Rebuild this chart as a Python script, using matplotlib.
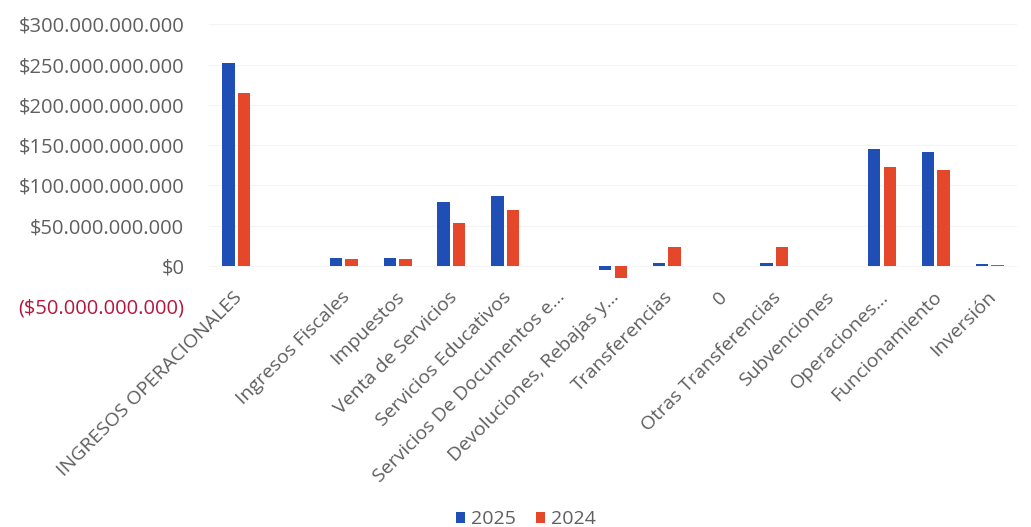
import numpy as np
import matplotlib.pyplot as plt
from matplotlib.ticker import FuncFormatter

categories = ["INGRESOS OPERACIONALES", "", "Ingresos Fiscales", "Impuestos",
              "Venta de Servicios", "Servicios Educativos",
              "Servicios De Documentos e\u2026", "Devoluciones, Rebajas y\u2026",
              "Transferencias", "0", "Otras Transferencias", "Subvenciones",
              "Operaciones\u2026", "Funcionamiento", "Inversión"]

# values in pesos
v2025 = [252e9, 0, 10e9, 10e9, 79e9, 87e9, 0, -5e9, 3e9, 0, 3e9, 0, 145e9, 141e9, 2e9]
v2024 = [215e9, 0, 8e9, 8e9, 53e9, 69e9, 0, -15e9, 23e9, 0, 23e9, 0, 123e9, 119e9, 1.5e9]

plt.rcParams['font.family'] = ['Open Sans', 'DejaVu Sans']
txt = "#5f5f5f"

fig = plt.figure(figsize=(10.31, 5.27), dpi=100)
ax = fig.add_axes([0.203, 0.419, 0.783, 0.535])

x = np.arange(len(categories))
w = 0.23
ax.bar(x - w/2 - 0.03, v2025, w, color="#1F4FB4", label="2025", zorder=3)
ax.bar(x + w/2 + 0.03, v2024, w, color="#E5472B", label="2024", zorder=3)

ax.set_xlim(-0.5, len(categories) - 0.5)
ax.set_ylim(-50e9, 300e9)
ax.set_yticks(np.arange(-50e9, 300e9 + 1, 50e9))

def fmt(v, pos):
    s = "{:,.0f}".format(abs(v)).replace(",", ".")
    if v < 0:
        return "(${})".format(s)
    return "${}".format(s)

ax.yaxis.set_major_formatter(FuncFormatter(fmt))
ax.grid(axis='y', color="#f4f4f4", linewidth=0.8, zorder=0)
for s in ax.spines.values():
    s.set_visible(False)
ax.tick_params(axis='y', length=0, labelsize=14.5, colors=txt, pad=18)
for lbl in ax.get_yticklabels():
    if lbl.get_text().startswith("("):
        lbl.set_color("#B5173F")

# category labels sit next to the zero line
ax.set_xticks([])
for i, c in enumerate(categories):
    ax.annotate(c, xy=(i, 0), xytext=(-3, -22), textcoords='offset pixels',
                rotation=45, ha='right', va='top', rotation_mode='anchor',
                fontsize=14, color=txt, annotation_clip=False)

fig.legend(loc='lower center', bbox_to_anchor=(0.51, -0.035), ncol=2, frameon=False,
           fontsize=14, labelcolor=txt, handlelength=0.5, handleheight=0.5,
           columnspacing=1.0, handletextpad=0.3)

fig.savefig("out.png", dpi=100)
